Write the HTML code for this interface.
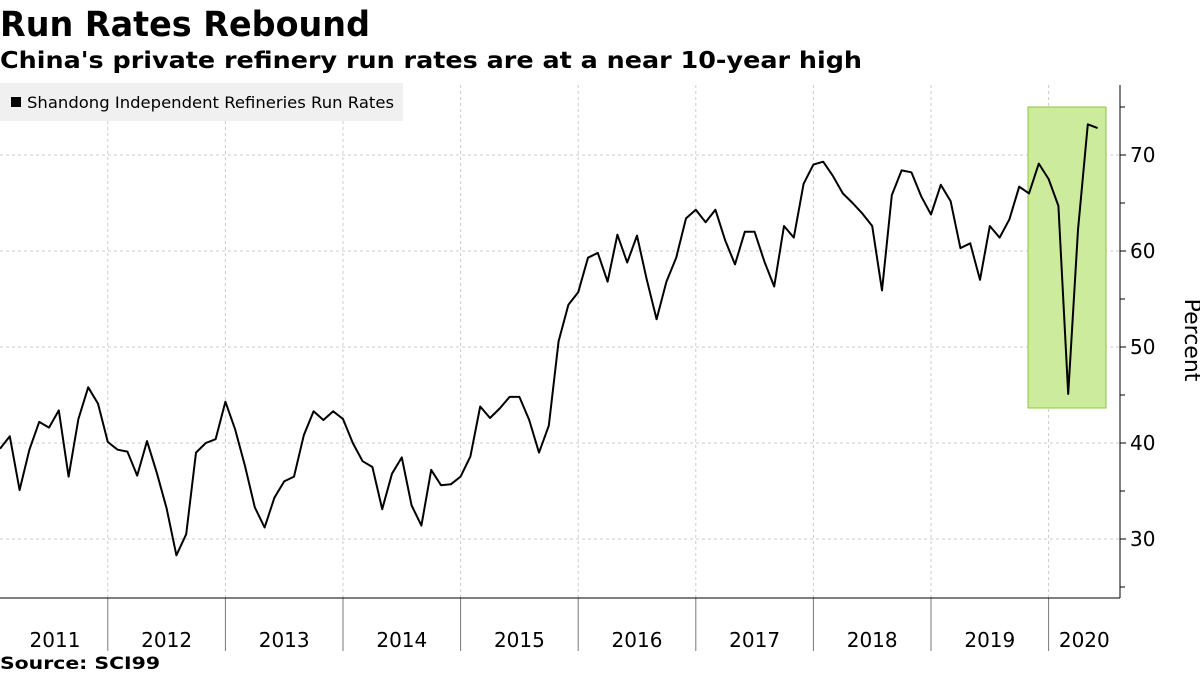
<!DOCTYPE html>
<html><head><meta charset="utf-8"><style>
html,body{margin:0;padding:0;background:#fff;width:1200px;height:675px;overflow:hidden}
svg{display:block;font-family:"DejaVu Sans","Liberation Sans",sans-serif}
</style></head><body>
<svg id="chart" width="1200" height="675" viewBox="0 0 1200 675">
<text x="0" y="36" font-size="35" font-weight="bold" textLength="370" lengthAdjust="spacingAndGlyphs">Run Rates Rebound</text>
<text x="0" y="68" font-size="23" font-weight="bold" textLength="862" lengthAdjust="spacingAndGlyphs">China's private refinery run rates are at a near 10-year high</text>
<g id="grid"></g>
<rect x="1028" y="107" width="78" height="301" fill="#cdeb9c" stroke="#8cc63f" stroke-width="1"/>
<g id="series"></g>
<g id="axes"></g>
<rect x="0" y="83" width="403" height="38" fill="#f0f0f0"/>
<rect x="11" y="97" width="10" height="10" fill="#000"/>
<text x="27" y="108" font-size="16" textLength="367" lengthAdjust="spacingAndGlyphs">Shandong Independent Refineries Run Rates</text>
<text x="1185" y="340" font-size="22" text-anchor="middle" transform="rotate(90 1185 340)">Percent</text>
<text x="0" y="669" font-size="17" font-weight="bold" textLength="160" lengthAdjust="spacingAndGlyphs">Source: SCI99</text>
</svg>
<script>
const values = [39.4,40.7,35.1,39.3,42.2,41.6,43.4,36.5,42.5,45.8,44.1,40.1,39.3,39.1,36.6,40.2,36.9,33.2,28.3,30.5,39,40,40.4,44.3,41.4,37.6,33.3,31.2,34.3,36,36.5,40.8,43.3,42.4,43.3,42.5,
40,38.1,37.5,33.1,36.8,38.5,33.5,31.4,37.2,35.6,35.7,36.5,38.6,43.8,42.6,43.6,44.8,44.8,42.4,39,41.8,50.6,54.4,55.7,59.3,59.8,56.8,61.7,58.8,61.6,57,52.9,56.8,59.3,63.4,
64.3,63,64.3,61.1,58.6,62,62,58.9,56.3,62.6,61.4,67,69,69.3,67.8,66,65,63.9,62.6,55.9,65.8,68.4,68.2,65.7,63.8,66.9,65.2,60.3,60.8,57,62.6,61.4,63.3,66.7,66,69.1,67.5,64.7,45.1,62.2,73.2,72.8];
const startMonthIndex = 1; // Feb 2011
const years = ["2011","2012","2013","2014","2015","2016","2017","2018","2019","2020"];
const yTicks = [30,40,50,60,70];
const yMinorTicks = [25,35,45,55,65,75];
const NS="http://www.w3.org/2000/svg";
const X0=0, DX=9.8, AXR=1120, TOP=85, BOT=598;
function xScale(m){return X0+(m-startMonthIndex)*DX;}
function yScale(v){return 155+(70-v)*9.6;}
function mk(tag,attrs,parent){const e=document.createElementNS(NS,tag);for(const k in attrs)e.setAttribute(k,attrs[k]);parent.appendChild(e);return e;}
const grid=document.getElementById('grid'), axes=document.getElementById('axes'), series=document.getElementById('series');
yTicks.forEach(t=>{
  const l=mk('line',{x1:0,x2:AXR,y1:yScale(t),y2:yScale(t),stroke:'#ccc','stroke-dasharray':'3,3'},grid);
  
  
  const tk=mk('line',{x1:AXR,x2:AXR+6,y1:yScale(t),y2:yScale(t),stroke:'#000'},axes);
  
  
  const tx=mk('text',{x:AXR+10,y:yScale(t)+7,'font-size':20},axes);
  tx.textContent=t;
  
  
});
yMinorTicks.forEach(t=>{
  const tk=mk('line',{x1:AXR,x2:AXR+5,y1:yScale(t),y2:yScale(t),stroke:'#000'},axes);
  
  
});
years.forEach((y,i)=>{
  const xs=xScale(i*12), xe=xScale((i+1)*12);
  if(i>0){
    const g=mk('line',{x1:xs,x2:xs,y1:TOP,y2:BOT,stroke:'#ccc','stroke-dasharray':'3,3'},grid);
    
    
    const s=mk('line',{x1:xs,x2:xs,y1:BOT,y2:651,stroke:'#777'},axes);
    
    
  }
  const cx=(Math.max(xs,0)+Math.min(xe,AXR))/2;
  const t=mk('text',{x:i==0?55:cx,y:647,'font-size':20,'text-anchor':'middle'},axes);
  t.textContent=y;
  
  
});
const xa=mk('line',{x1:0,x2:AXR,y1:BOT,y2:BOT,stroke:'#000'},axes);


const ya=mk('line',{x1:AXR,x2:AXR,y1:TOP,y2:BOT,stroke:'#000'},axes);


const pts=values.map((v,i)=>xScale(i+startMonthIndex).toFixed(1)+','+yScale(v).toFixed(1)).join(' ');
const line=mk('polyline',{points:pts,fill:'none',stroke:'#000','stroke-width':2,'stroke-linejoin':'round'},series);


</script>
</body></html>
